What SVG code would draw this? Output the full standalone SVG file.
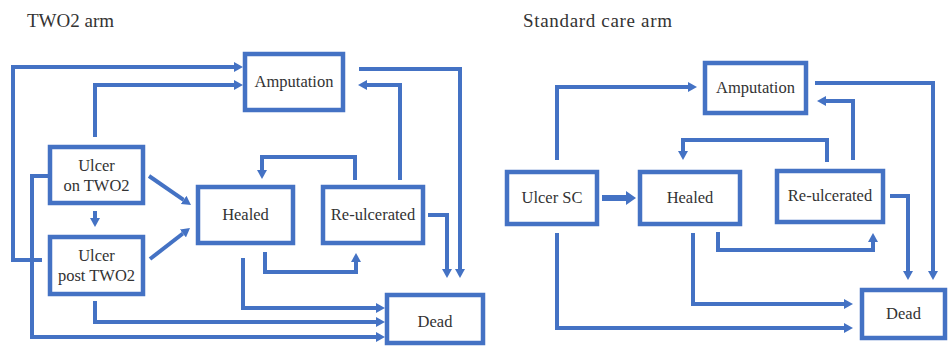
<svg xmlns="http://www.w3.org/2000/svg" width="952" height="346" viewBox="0 0 952 346">
<defs>
<style>
.box{fill:#fff;stroke:#4472C4;stroke-width:4.5}
.t{font-family:"Liberation Serif","Times New Roman",serif;font-size:16.5px;fill:#333;text-anchor:middle}
.title{font-family:"Liberation Serif","Times New Roman",serif;font-size:19px;fill:#333}
.c{fill:none;stroke:#4472C4;stroke-width:4;marker-end:url(#ah)}
.cb{fill:none;stroke:#4472C4;stroke-width:6;marker-end:url(#ahb)}
</style>
<marker id="ah" markerUnits="userSpaceOnUse" markerWidth="9" markerHeight="10" refX="0" refY="5" orient="auto"><path d="M0,0 L9,5 L0,10 z" fill="#4472C4"/></marker>
<marker id="ahb" markerUnits="userSpaceOnUse" markerWidth="10" markerHeight="14" refX="0" refY="7" orient="auto"><path d="M0,0 L10,7 L0,14 z" fill="#4472C4"/></marker>
</defs>
<rect width="952" height="346" fill="#fff"/>
<text class="title" x="27" y="27" textLength="87">TWO2 arm</text>
<text class="title" x="523" y="27" textLength="149">Standard care arm</text>
<g id="connectors">
<path class="c" d="M42,260 H13 V67 H234"/>
<path class="c" d="M95,137 V85 H234"/>
<path class="c" d="M50,176 H32 V337 H376"/>
<path class="c" d="M95,301 V322 H376"/>
<path class="c" d="M243,258 V308 H376"/>
<path class="c" d="M265,252 V272 H356 V262"/>
<path class="c" d="M355,180 V157 H262 V170"/>
<path class="c" d="M400,180 V85 H367"/>
<path class="c" d="M359,69 H460 V269"/>
<path class="c" d="M428,215 H447 V269"/>
<path class="c" d="M95,211 V218"/>
<path class="c" d="M149,176 L183.6,199.9"/>
<path class="c" d="M150,259 L182.9,233.5"/>
<path class="c" d="M557,160 V87 H688"/>
<path class="cb" d="M602,198 H626"/>
<path class="c" d="M557,233 V328 H844"/>
<path class="c" d="M693,233 V304 H844"/>
<path class="c" d="M718,232 V250 H873 V242"/>
<path class="c" d="M827,162 V140 H683 V151"/>
<path class="c" d="M853,160 V101 H826"/>
<path class="c" d="M815,83 H933 V271"/>
<path class="c" d="M890,196 H908 V271"/>
</g>
<g id="amp1"><rect class="box" x="245" y="54" width="98" height="56"/><text class="t" x="294" y="87">Amputation</text></g>
<g id="ulceron"><rect class="box" x="50" y="147" width="93" height="56"/><text class="t" x="96.5" y="171">Ulcer</text><text class="t" x="96.5" y="191">on TWO2</text></g>
<g id="ulcerpost"><rect class="box" x="50" y="237" width="93" height="57"/><text class="t" x="96.5" y="261">Ulcer</text><text class="t" x="96.5" y="281">post TWO2</text></g>
<g id="healed1"><rect class="box" x="198" y="187" width="95" height="56"/><text class="t" x="245.5" y="220">Healed</text></g>
<g id="reulc1"><rect class="box" x="323" y="187" width="100" height="56"/><text class="t" x="373" y="220">Re-ulcerated</text></g>
<g id="dead1"><rect class="box" x="387" y="295" width="96" height="48"/><text class="t" x="435" y="327">Dead</text></g>
<g id="amp2"><rect class="box" x="705" y="63" width="101" height="50"/><text class="t" x="755.5" y="93">Amputation</text></g>
<g id="ulcersc"><rect class="box" x="507" y="172" width="90" height="52"/><text class="t" x="552" y="203">Ulcer SC</text></g>
<g id="healed2"><rect class="box" x="640" y="172" width="100" height="52"/><text class="t" x="690" y="203">Healed</text></g>
<g id="reulc2"><rect class="box" x="777" y="171" width="106" height="51"/><text class="t" x="830" y="201">Re-ulcerated</text></g>
<g id="dead2"><rect class="box" x="862" y="290" width="83" height="48"/><text class="t" x="903.5" y="319">Dead</text></g>
</svg>
